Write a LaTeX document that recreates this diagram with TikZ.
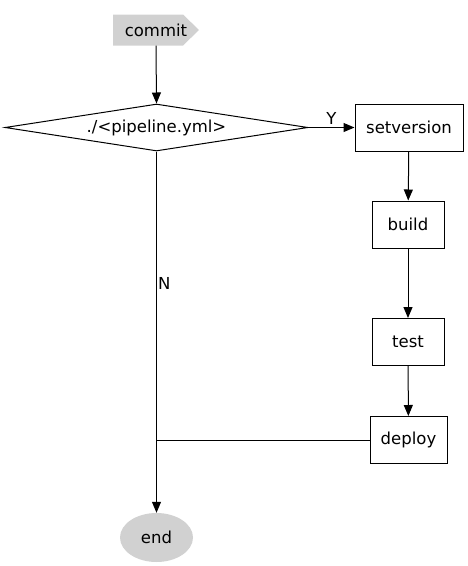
\documentclass[tikz,border=0pt]{standalone}
\usepackage{fontspec}
\setmainfont{DejaVu Sans}
\usetikzlibrary{arrows.meta,shapes.geometric}
\begin{document}
\begin{tikzpicture}[x=1pt,y=-1pt,
  every node/.style={font=\fontsize{16.5}{19}\selectfont, text=black},
  box/.style={draw, line width=1pt, inner sep=0pt},
  arr/.style={line width=1pt, -{Triangle[length=11pt,width=9pt]}},
  ln/.style={line width=1pt}]
\useasboundingbox (0,0) rectangle (467,566);
\fill[black!18] (113,14.5) -- (183,14.5) -- (199,30) -- (183,45.5) -- (113,45.5) -- cycle;
\node[minimum width=86pt, minimum height=31pt, inner sep=0pt] (commit) at (156,30) {commit};
\node[diamond, draw, line width=1pt, aspect=6.45, inner sep=0pt, minimum width=303pt, minimum height=47pt] (dec) at (156.5,127.5) {./<pipeline.yml>};
\node[box, minimum width=108pt, minimum height=47pt] (setv) at (409,127.5) {setversion};
\node[box, minimum width=72pt, minimum height=47pt] (build) at (408,224.5) {build};
\node[box, minimum width=72pt, minimum height=47pt] (test) at (408,342) {test};
\node[box, minimum width=77pt, minimum height=47pt] (deploy) at (408.5,440) {deploy};
\node[ellipse, fill=black!18, minimum width=73pt, minimum height=49pt, inner sep=0pt] (end) at (156.5,537.5) {end};
\draw[arr] (commit.south) -- (dec.north);
\draw[arr] (dec.east) -- node[above, inner sep=3pt] {Y} (setv.west);
\draw[arr] (setv) -- (build);
\draw[arr] (build) -- (test);
\draw[arr] (test) -- (deploy);
\draw[arr] (dec.south) -- node[pos=0.365, anchor=west, inner sep=1pt] {N} (end.north);
\coordinate (j) at (dec.south |- deploy.west);
\draw[ln] (deploy.west) -- (j);
\end{tikzpicture}
\end{document}
